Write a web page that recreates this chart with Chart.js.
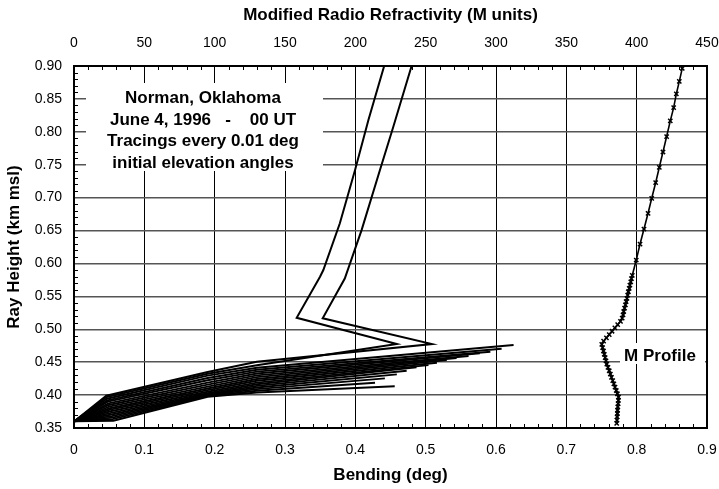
<!DOCTYPE html>
<html><head><meta charset="utf-8">
<script src="https://cdn.jsdelivr.net/npm/chart.js@4.4.1/dist/chart.umd.min.js"></script>
<style>html,body{margin:0;padding:0;background:#fff;}canvas{display:block;}</style>
</head><body>
<canvas id="c" width="719" height="489"></canvas>
<script>
const FONT = '"Liberation Sans", Arial, Helvetica, sans-serif';

// Tick labels
const bendingTicks = [0, 0.1, 0.2, 0.3, 0.4, 0.5, 0.6, 0.7, 0.8, 0.9];
const heightTicks = [0.35, 0.40, 0.45, 0.50, 0.55, 0.60, 0.65, 0.70, 0.75, 0.80, 0.85, 0.90];
const mTicks = [0, 50, 100, 150, 200, 250, 300, 350, 400, 450];

// M profile (height km, M units)
const mProfileHeight = [0.357,0.362,0.367,0.372,0.377,0.382,0.387,0.392,0.397,
  0.402,0.407,0.412,0.417,0.422,0.427,0.432,0.437,0.442,0.447,0.452,0.457,0.462,0.467,0.472,0.477,
  0.482,0.487,0.492,0.497,0.502,0.507,0.512,
  0.517,0.522,0.527,0.532,0.537,0.542,0.547,0.552,0.557,0.562,0.567,0.572,0.577,0.582,
  0.6052,0.6295,0.6523,0.6762,0.6990,0.7227,0.7461,0.7693,0.7928,0.8166,0.8368,0.8576,0.8767,0.8965];
const mProfileValue = [385.8,386.0,386.1,386.3,386.4,386.6,386.8,387.0,387.1,
  386.3,385.5,384.6,383.8,383.0,382.1,381.3,380.5,379.6,378.8,378.2,377.6,377.0,376.4,375.8,375.2,
  376.5,378.5,380.5,382.5,384.5,386.5,388.5,
  389.7,390.3,390.8,391.4,392.0,392.5,393.1,393.6,394.1,394.7,395.2,395.8,396.3,396.9,
  399.7,402.4,405.2,408.1,410.7,413.5,416.1,418.7,421.3,423.9,426.3,428.2,430.3,432.4];

// Ray tracings [bending deg, height km]
const trappedRays = [
  [[0,0.36],[0.056,0.361],[0.19,0.3975],[0.26,0.404],[0.456,0.4135]],
  [[0,0.36],[0.055,0.3634],[0.19,0.3985],[0.26,0.4065],[0.428,0.4187]],
  [[0,0.36],[0.0548,0.3658],[0.19,0.3995],[0.26,0.409],[0.442,0.4254]],
  [[0,0.36],[0.054,0.368],[0.19,0.4005],[0.26,0.4115],[0.459,0.4315]],
  [[0,0.36],[0.0535,0.3705],[0.19,0.4015],[0.26,0.414],[0.473,0.437]],
  [[0,0.36],[0.053,0.373],[0.19,0.403],[0.26,0.4165],[0.487,0.4421]],
  [[0,0.36],[0.052,0.3755],[0.19,0.405],[0.26,0.419],[0.504,0.4456]],
  [[0,0.36],[0.0515,0.378],[0.19,0.4075],[0.26,0.4218],[0.516,0.4491]],
  [[0,0.36],[0.051,0.380],[0.19,0.410],[0.26,0.4245],[0.530,0.4532]],
  [[0,0.36],[0.050,0.3825],[0.19,0.4128],[0.26,0.4273],[0.544,0.4562]],
  [[0,0.36],[0.0495,0.385],[0.19,0.4158],[0.26,0.430],[0.561,0.4593]],
  [[0,0.36],[0.049,0.3875],[0.19,0.419],[0.26,0.4328],[0.577,0.4634]],
  [[0,0.36],[0.048,0.390],[0.19,0.4225],[0.26,0.4356],[0.592,0.4658]],
  [[0,0.36],[0.0475,0.392],[0.19,0.426],[0.26,0.4385],[0.608,0.4704]],
  [[0,0.36],[0.047,0.3945],[0.19,0.4295],[0.26,0.4415],[0.625,0.476]]
];
const escapeRayA = [[0,0.36],[0.0465,0.397],[0.19,0.4325],[0.26,0.4455],[0.459,0.4775],[0.3166,0.5175],
  [0.3498,0.5798],[0.3545,0.59],[0.378,0.661],[0.3996,0.742],[0.4186,0.818],[0.441,0.90]];
const escapeRayB = [[0,0.36],[0.046,0.399],[0.19,0.435],[0.26,0.4505],[0.509,0.4775],[0.3536,0.5166],
  [0.385,0.577],[0.409,0.651],[0.435,0.742],[0.454,0.8078],[0.480,0.90]];

const annotationLines = ['Norman, Oklahoma', 'June 4, 1996   -    00 UT', 'Tracings every 0.01 deg', 'initial elevation angles'];
const profileLabel = 'M Profile';

const datasets = [];
trappedRays.forEach(r => {
  datasets.push({data: r.map(p => ({x:p[0], y:p[1]})), showLine:true, borderColor:'#000', borderWidth:1.9,
    pointRadius:0, tension:0, xAxisID:'x', yAxisID:'y'});
});
[escapeRayA, escapeRayB].forEach(r => {
  datasets.push({data: r.map(p => ({x:p[0], y:p[1]})), showLine:true, borderColor:'#000', borderWidth:2,
    pointRadius:0, tension:0, xAxisID:'x', yAxisID:'y'});
});
datasets.push({
  data: mProfileHeight.map((h,i) => ({x: mProfileValue[i], y: h})),
  showLine:true, borderColor:'#000', borderWidth:1.6, tension:0,
  pointStyle:'crossRot', pointRadius:3, pointBorderWidth:1.5, pointBorderColor:'#000',
  xAxisID:'x2', yAxisID:'y'
});

const decor = {
  id:'decor',
  beforeDatasetsDraw(chart){
    const ctx = chart.ctx;
    ctx.save();
    ctx.fillStyle = '#fff';
    ctx.fillRect(86, 83, 237, 88);
    ctx.fillRect(620, 343, 85, 21);
    ctx.fillStyle = '#000';
    ctx.font = 'bold 17px ' + FONT;
    ctx.textAlign = 'center';
    ctx.textBaseline = 'alphabetic';
    const ys = [103, 124.7, 146.4, 168];
    annotationLines.forEach((t,i) => ctx.fillText(t, 203, ys[i]));
    ctx.fillText(profileLabel, 660, 360.5);
    ctx.restore();
  },
  afterDatasetsDraw(chart){
    const ctx = chart.ctx, a = chart.chartArea;
    const sx = chart.scales.x, sy = chart.scales.y, sx2 = chart.scales.x2;
    ctx.save();
    ctx.strokeStyle = '#000';
    ctx.lineWidth = 1;
    ctx.beginPath();
    for (let k = 1; k < 45; k++) {
      if (k % 5 === 0) continue;
      const px = Math.round(sx.getPixelForValue(k * 0.02)) + 0.5;
      ctx.moveTo(px, a.bottom); ctx.lineTo(px, a.bottom - 4);
    }
    for (let k = 1; k < 45; k++) {
      if (k % 5 === 0) continue;
      const px = Math.round(sx2.getPixelForValue(k * 10)) + 0.5;
      ctx.moveTo(px, a.top); ctx.lineTo(px, a.top + 4);
    }
    for (let k = 36; k < 90; k++) {
      if (k % 5 === 0) continue;
      const py = Math.round(sy.getPixelForValue(k * 0.01)) + 0.5;
      ctx.moveTo(a.left, py); ctx.lineTo(a.left + 4, py);
    }
    ctx.stroke();
    ctx.lineWidth = 2;
    ctx.strokeRect(a.left, a.top, a.right - a.left, a.bottom - a.top);
    ctx.restore();
  }
};

const tickFont = {family: FONT, size: 14};
const titleFont = {family: FONT, size: 17, weight: 'bold'};

new Chart(document.getElementById('c'), {
  type: 'scatter',
  data: {datasets},
  options: {
    responsive:false, animation:false, events:[],
    layout:{padding:{left:0, right:12, top:0, bottom:0}},
    plugins:{legend:{display:false}, tooltip:{enabled:false}},
    scales:{
      x:{type:'linear', position:'bottom', min:0, max:0.9,
        afterBuildTicks: s => { s.ticks = bendingTicks.map(v => ({value:v})); },
        afterFit: s => { s.height = 61; },
        ticks:{callback: v => v === 0 ? '0' : Number(v).toFixed(1), font:tickFont, color:'#000', padding:0, maxRotation:0, autoSkip:false},
        grid:{color:'#000', lineWidth:1, drawTicks:true, tickLength:13.5, tickColor:'rgba(0,0,0,0)'},
        border:{display:false},
        title:{display:true, text:'Bending (deg)', font:titleFont, color:'#000', padding:{top:0, bottom:3}}
      },
      x2:{type:'linear', position:'top', min:0, max:450,
        afterBuildTicks: s => { s.ticks = mTicks.map(v => ({value:v})); },
        afterFit: s => { s.height = 66; },
        ticks:{callback: v => String(v), font:tickFont, color:'#000', padding:0, maxRotation:0, autoSkip:false},
        grid:{display:false, drawTicks:true, tickLength:14.5, tickColor:'rgba(0,0,0,0)'},
        border:{display:false},
        title:{display:true, text:'Modified Radio Refractivity (M units)', font:titleFont, color:'#000', padding:{top:5, bottom:0}}
      },
      y:{type:'linear', position:'left', min:0.35, max:0.90,
        afterBuildTicks: s => { s.ticks = heightTicks.map(v => ({value:v})); },
        afterFit: s => { s.width = 74; },
        ticks:{callback: v => Number(v).toFixed(2), font:tickFont, color:'#000', padding:12, autoSkip:false},
        grid:{color:'#555', lineWidth:1.5, drawTicks:false},
        border:{display:false},
        title:{display:true, text:'Ray Height (km msl)', font:titleFont, color:'#000', padding:{top:4, bottom:0}}
      }
    }
  },
  plugins:[decor]
});
</script>
</body></html>
